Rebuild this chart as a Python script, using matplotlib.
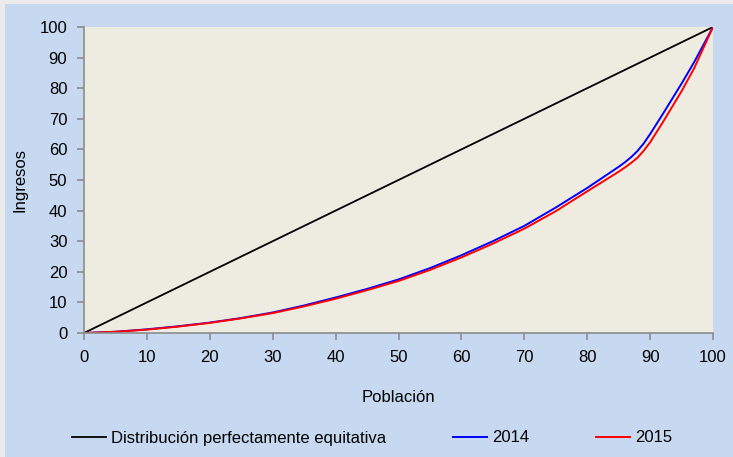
import numpy as np
import matplotlib.pyplot as plt
from matplotlib.patches import Rectangle

plt.rcParams['font.family'] = ['Liberation Sans', 'DejaVu Sans']

# Donnees (courbes de Lorenz)
poblacion = [0, 5, 10, 15, 20, 25, 30, 35, 40, 45, 50, 55, 60, 65, 70, 75,
             80, 85, 86, 87, 88, 89, 90, 92, 95, 97, 100]
ingresos_2014 = [0, 0.4, 1.2, 2.2, 3.4, 4.9, 6.7, 9.0, 11.6, 14.4, 17.5, 21.2,
                 25.4, 30.0, 35.0, 41.0, 47.4, 54.3, 55.8, 57.5, 59.5, 62.0,
                 65.0, 71.5, 81.5, 88.5, 100]
ingresos_2015 = [0, 0.4, 1.1, 2.1, 3.3, 4.8, 6.5, 8.7, 11.2, 14.0, 17.0, 20.6,
                 24.7, 29.2, 34.1, 39.8, 46.3, 52.7, 54.1, 55.6, 57.3, 59.6,
                 62.3, 68.8, 79.0, 86.5, 100]
equidad = [0, 100]

fig = plt.figure(figsize=(7.33, 4.57), dpi=100, facecolor='#ebebeb')
# panneau bleu de fond
fig.patches.append(Rectangle((5 / 733, 0), 1, 1 - 4 / 457, transform=fig.transFigure,
                             facecolor='#c6d9f0', edgecolor='none', zorder=-10))

ax = fig.add_axes([84 / 733, 1 - 333 / 457, 629 / 733, 306 / 457])
ax.set_zorder(1)
ax.set_facecolor('#eeebe1')

ax.plot(equidad, equidad, color='black', lw=1.3, label='Distribución perfectamente equitativa')
ax.plot(poblacion, ingresos_2014, color='#0000ff', lw=1.4, label='2014')
ax.plot(poblacion, ingresos_2015, color='#ff0000', lw=1.4, label='2015')

ax.set_xlim(0, 100)
ax.set_ylim(0, 100)
ax.set_xticks(range(0, 101, 10))
ax.set_yticks(range(0, 101, 10))
for s in ['top', 'right']:
    ax.spines[s].set_visible(False)
for s in ['left', 'bottom']:
    ax.spines[s].set_color('#8c8c8c')
    ax.spines[s].set_linewidth(1.2)
ax.tick_params(direction='out', length=5, width=1.2, color='#8c8c8c',
               labelsize=12, pad=7)

ax.set_xlabel('Población', fontsize=12, labelpad=18)
ax.set_ylabel('Ingresos', fontsize=12, labelpad=9)

fig.legend(loc='center', bbox_to_anchor=(372 / 733, 1 - 438 / 457), ncol=3, frameon=False,
           fontsize=12, handlelength=2.05, handletextpad=0.3, columnspacing=4.0)

fig.savefig('out.png', dpi=100, facecolor=fig.get_facecolor())
